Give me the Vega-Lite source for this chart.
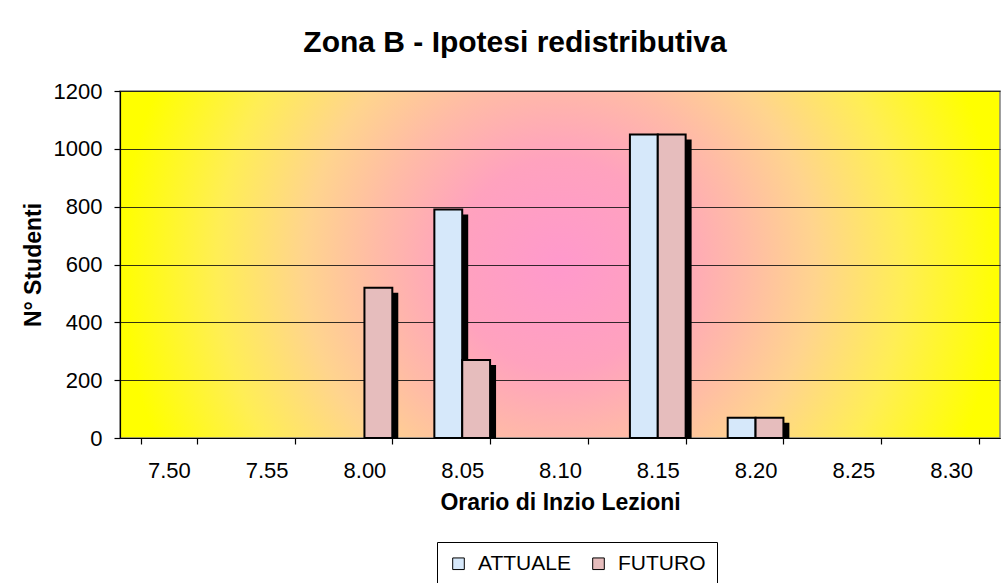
{
  "$schema": "https://vega.github.io/schema/vega-lite/v6.json",
  "autosize": "none",
  "width": 880,
  "height": 347,
  "padding": {"left": 120, "top": 91, "right": 7, "bottom": 145},
  "background": "white",
  "title": {
    "text": "Zona B - Ipotesi redistributiva",
    "font": "Liberation Sans",
    "fontSize": 30,
    "fontWeight": "bold",
    "color": "black",
    "anchor": "middle",
    "dx": -45,
    "offset": 22
  },
  "data": {
    "values": [
      {"orario": "8.05", "serie": "ATTUALE", "studenti": 790},
      {"orario": "8.15", "serie": "ATTUALE", "studenti": 1050},
      {"orario": "8.20", "serie": "ATTUALE", "studenti": 70},
      {"orario": "8.00", "serie": "FUTURO", "studenti": 520},
      {"orario": "8.05", "serie": "FUTURO", "studenti": 270},
      {"orario": "8.15", "serie": "FUTURO", "studenti": 1050},
      {"orario": "8.20", "serie": "FUTURO", "studenti": 70}
    ]
  },
  "encoding": {
    "x": {
      "field": "orario",
      "type": "nominal",
      "scale": {
        "domain": ["7.50", "7.55", "8.00", "8.05", "8.10", "8.15", "8.20", "8.25", "8.30"],
        "paddingInner": 0.43,
        "paddingOuter": 0.215
      },
      "axis": {
        "title": "Orario di Inzio Lezioni",
        "labelAngle": 0,
        "tickBand": "extent",
        "tickSize": 6,
        "labelPadding": 16,
        "titlePadding": 10
      }
    },
    "y": {
      "field": "studenti",
      "type": "quantitative",
      "scale": {"domain": [0, 1200], "nice": false},
      "axis": {
        "title": "N° Studenti",
        "format": "d",
        "values": [0, 200, 400, 600, 800, 1000, 1200],
        "tickSize": 6,
        "labelPadding": 12,
        "titlePadding": 8,
        "grid": true
      }
    }
  },
  "layer": [
    {
      "mark": {"type": "bar", "color": "black", "yOffset": 5, "clip": true},
      "encoding": {
        "xOffset": {
          "field": "serie",
          "type": "nominal",
          "scale": {"domain": ["ATTUALE", "FUTURO"], "range": [6, 61.7], "paddingInner": 0, "paddingOuter": 0}
        }
      }
    },
    {
      "mark": {"type": "bar", "stroke": "black", "strokeWidth": 2},
      "encoding": {
        "xOffset": {
          "field": "serie",
          "type": "nominal",
          "scale": {"domain": ["ATTUALE", "FUTURO"], "paddingInner": 0, "paddingOuter": 0}
        },
        "color": {
          "field": "serie",
          "type": "nominal",
          "scale": {"domain": ["ATTUALE", "FUTURO"], "range": ["#D6E8FA", "#E6BDBD"]},
          "legend": {"title": null, "orient": "none", "legendX": 317, "legendY": 451}
        }
      }
    }
  ],
  "resolve": {"scale": {"xOffset": "independent"}},
  "config": {
    "font": "Liberation Sans",
    "view": {
      "stroke": "#808080",
      "strokeWidth": 1.5,
      "fill": {
        "gradient": "radial",
        "x1": 0.5, "y1": 0.5, "r1": 0,
        "x2": 0.5, "y2": 0.5, "r2": 0.5,
        "stops": [
          {"offset": 0, "color": "#FF99CC"},
          {"offset": 0.24, "color": "#FFA2BE"},
          {"offset": 0.42, "color": "#FFBBA6"},
          {"offset": 0.58, "color": "#FFD48E"},
          {"offset": 0.78, "color": "#FFEE55"},
          {"offset": 1, "color": "#FFFF00"}
        ]
      }
    },
    "axis": {
      "labelFont": "Liberation Sans",
      "labelFontSize": 22,
      "labelColor": "black",
      "titleFont": "Liberation Sans",
      "titleFontSize": 23,
      "titleFontWeight": "bold",
      "titleColor": "black",
      "domainColor": "black",
      "domainWidth": 1.2,
      "tickColor": "black",
      "tickWidth": 1.2,
      "gridColor": "#111111",
      "gridWidth": 1,
      "gridOpacity": 0.85
    },
    "legend": {
      "direction": "horizontal",
      "padding": 11,
      "strokeColor": "#000000",
      "fillColor": "white",
      "labelFont": "Liberation Sans",
      "labelFontSize": 21,
      "labelColor": "black",
      "symbolType": "square",
      "symbolSize": 135,
      "symbolStrokeColor": "black",
      "symbolStrokeWidth": 1,
      "labelOffset": 9,
      "columnPadding": 17
    }
  }
}
